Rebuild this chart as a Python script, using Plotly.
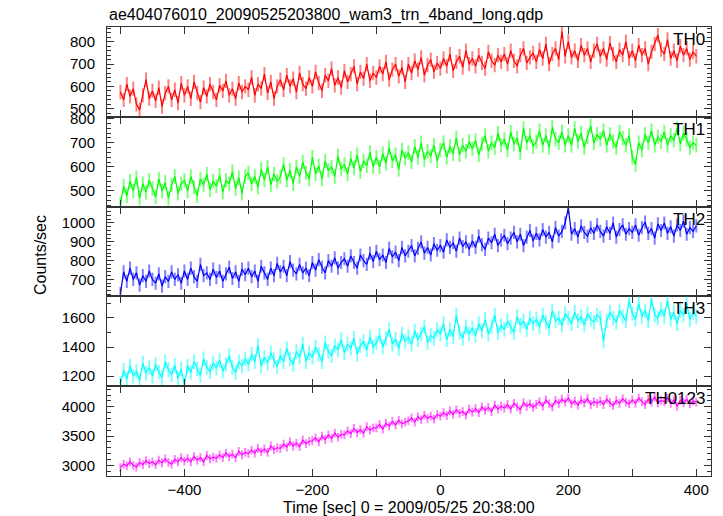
import plotly.graph_objects as go
from plotly.subplots import make_subplots

# time grid (sec), 5 s bins from -500 to 400
time_sec = list(range(-500, 401, 5))

th0 = [
    575, 540, 610, 555, 590, 520, 495, 560, 630, 545,
    580, 535, 595, 510, 570, 600, 540, 585, 525, 615,
    560, 600, 545, 620, 570, 530, 595, 555, 610, 575,
    540, 605, 580, 625, 560, 590, 545, 615, 575, 600,
    585, 640, 560, 610, 590, 655, 570, 620, 545, 600,
    630, 585, 650, 600, 635, 575, 660, 610, 590, 640,
    600, 665, 615, 580, 650, 625, 680, 605, 640, 595,
    670, 620, 655, 690, 610, 665, 635, 700, 625, 660,
    640, 690, 655, 710, 630, 675, 700, 645, 685, 620,
    700, 660, 715, 675, 730, 650, 695, 720, 665, 705,
    680, 725, 690, 745, 670, 710, 735, 685, 760, 700,
    725, 690, 740, 705, 680, 755, 715, 695, 740, 710,
    745, 700, 760, 715, 690, 740, 770, 705, 730, 750,
    710, 765, 725, 790, 700, 745, 770, 720, 845, 735,
    800, 730, 760, 715, 785, 740, 770, 710, 760, 790,
    735, 770, 720, 795, 745, 710, 765, 740, 800, 725,
    760, 715, 785, 740, 770, 700, 755, 790, 830, 765,
    745, 810, 725, 760, 715, 780, 740, 770, 720, 755,
    735,
]

th1 = [
    445, 520, 480, 540, 500, 555, 470, 530, 495, 545,
    510, 475, 550, 500, 535, 470, 525, 560, 490, 530,
    545, 500, 560, 515, 480, 550, 525, 570, 505, 540,
    520, 565, 495, 545, 530, 580, 510, 555, 490, 560,
    575, 530, 560, 515, 590, 545, 600, 525, 570, 540,
    560, 610, 545, 585, 530, 600, 560, 620, 575, 550,
    640, 570, 605, 550, 625, 585, 600, 560, 645, 590,
    610, 570, 635, 595, 650, 580, 625, 605, 660, 600,
    640, 600, 655, 615, 680, 625, 650, 590, 670, 635,
    660, 620, 685, 640, 700, 630, 665, 645, 690, 625,
    670, 700, 640, 685, 655, 720, 650, 690, 665, 705,
    675, 710, 650, 695, 730, 665, 700, 680, 740, 690,
    715, 670, 745, 695, 720, 660, 760, 700, 730, 685,
    705, 750, 690, 730, 680, 765, 715, 700, 745, 690,
    730, 690, 760, 705, 740, 680, 725, 770, 700, 735,
    715, 750, 690, 735, 705, 680, 745, 720, 690, 730,
    640, 610, 700, 670, 735, 700, 750, 690, 725, 705,
    745, 690, 730, 710, 760, 695, 740, 715, 680, 700,
    690,
]

th2 = [
    625, 740, 690, 760, 700, 735, 670, 720, 690, 745,
    700, 680, 730, 665, 715, 690, 740, 700, 725, 680,
    745, 700, 760, 715, 690, 780, 720, 735, 700, 755,
    710, 745, 690, 730, 765, 705, 740, 690, 755, 725,
    760, 715, 745, 690, 770, 735, 700, 760, 720, 785,
    740, 770, 720, 795, 750, 730, 780, 735, 760, 720,
    790, 750, 805, 765, 735, 800, 770, 815, 760, 790,
    810, 770, 825, 790, 760, 830, 800, 780, 840, 795,
    850, 805, 830, 790, 865, 820, 845, 800, 870, 825,
    850, 880, 825, 865, 900, 840, 870, 830, 890, 855,
    880, 845, 910, 870, 895, 850, 920, 875, 900, 860,
    905, 870, 930, 885, 860, 920, 895, 940, 880, 910,
    935, 890, 920, 950, 900, 940, 880, 925, 960, 905,
    945, 910, 965, 925, 950, 900, 975, 930, 955, 1000,
    1080, 940, 970, 925, 985, 950, 930, 975, 945, 990,
    955, 930, 980, 945, 1000, 925, 965, 990, 940, 970,
    950, 990, 935, 975, 1005, 945, 970, 920, 995, 960,
    1000, 945, 980, 930, 990, 960, 1010, 940, 975, 955,
    985,
]

th3 = [
    1150, 1240, 1180, 1270, 1200, 1235, 1170, 1290, 1220, 1260,
    1200, 1280, 1230, 1190, 1300, 1245, 1210, 1275, 1185, 1250,
    1140, 1270, 1225, 1300, 1250, 1205, 1320, 1260, 1230, 1290,
    1255, 1310, 1235, 1280, 1340, 1260, 1225, 1300, 1270, 1320,
    1280, 1350, 1300, 1410, 1270, 1330, 1290, 1360, 1310, 1265,
    1340, 1300, 1390, 1320, 1280, 1370, 1330, 1420, 1300, 1360,
    1330, 1400, 1350, 1300, 1430, 1370, 1340, 1410, 1380, 1450,
    1360, 1420, 1390, 1460, 1350, 1410, 1440, 1380, 1470, 1400,
    1430, 1480, 1400, 1460, 1520, 1420, 1455, 1390, 1490, 1440,
    1470, 1420, 1510, 1450, 1490, 1540, 1430, 1480, 1460, 1520,
    1490, 1560, 1450, 1520, 1470, 1620, 1500, 1460, 1540, 1490,
    1530, 1480, 1560, 1510, 1590, 1490, 1540, 1620, 1500, 1550,
    1520, 1580, 1540, 1500, 1610, 1550, 1580, 1520, 1600, 1560,
    1590, 1540, 1620, 1570, 1530, 1650, 1580, 1600, 1550, 1630,
    1600, 1560, 1640, 1580, 1610, 1550, 1630, 1590, 1570, 1620,
    1600, 1440, 1580, 1640, 1600, 1570, 1650, 1610, 1580, 1720,
    1630, 1590, 1700, 1610, 1650, 1580, 1730, 1620, 1600, 1660,
    1610, 1720, 1590, 1640, 1560, 1650, 1620, 1700, 1590, 1640,
    1610,
]

th0123 = [
    2960, 3020, 2990, 3060, 3000, 2970, 3050, 3010, 3080, 3030,
    3060, 3010, 3090, 3040, 3110, 3050, 3020, 3100, 3060, 3130,
    3070, 3120, 3060, 3150, 3090, 3130, 3060, 3170, 3110, 3140,
    3120, 3180, 3130, 3210, 3150, 3190, 3130, 3240, 3180, 3220,
    3200, 3260, 3210, 3290, 3230, 3280, 3220, 3330, 3270, 3300,
    3290, 3360, 3310, 3400, 3330, 3380, 3320, 3430, 3370, 3410,
    3420, 3470, 3400, 3500, 3440, 3520, 3460, 3550, 3480, 3530,
    3520, 3590, 3540, 3630, 3560, 3610, 3550, 3660, 3600, 3640,
    3640, 3700, 3620, 3720, 3670, 3750, 3690, 3770, 3710, 3740,
    3760, 3810, 3740, 3830, 3780, 3860, 3800, 3840, 3790, 3870,
    3840, 3900, 3850, 3930, 3870, 3950, 3890, 3920, 3860, 3960,
    3910, 3970, 3900, 4000, 3940, 3990, 3920, 4030, 3960, 4010,
    3980, 4040, 3960, 4060, 4000, 3950, 4070, 4010, 4050, 3990,
    4040, 4090, 4010, 4120, 4050, 4000, 4110, 4060, 4130, 4080,
    4150, 4050, 4100, 4030, 4120, 4070, 4140, 4040, 4090, 4060,
    4100, 4040, 4130, 4070, 4020, 4110, 4060, 4140, 4080, 4050,
    4120, 4060, 4150, 4090, 4040, 4130, 4080, 4170, 4070, 4110,
    4090, 4150, 4060, 4120, 4010, 4110, 4070, 4130, 4050, 4100,
    4080,
]

band_names = ["TH0", "TH1", "TH2", "TH3", "TH0123"]
band_values = [th0, th1, th2, th3, th0123]
band_errors = [32, 30, 35, 50, 75]   # typical 1-sigma error bar per band (counts/sec)
band_colors = ["#ff0000", "#00ff00", "#0000ff", "#00ffff", "#ff00ff"]
band_err_colors = ["rgba(255,0,0,0.5)", "rgba(0,255,0,0.5)", "rgba(0,0,255,0.5)",
                   "rgba(0,255,255,0.5)", "rgba(255,0,255,0.5)"]
y_ranges = [[464, 866], [435, 808], [610, 1087], [1131, 1748], [2817, 4353]]
y_dticks = [100, 100, 100, 200, 500]
y_minor = [20, 20, 20, 100, 100]

x_tickvals = [-500, -400, -300, -200, -100, 0, 100, 200, 300, 400]
x_ticktext = ["", "\u2212400", "", "\u2212200", "", "0", "", "200", "", "400"]

title_text = "ae404076010_20090525203800_wam3_trn_4band_long.qdp"
x_title = "Time [sec] 0 = 2009/05/25 20:38:00"
y_title = "Counts/sec"

FONT = "Liberation Sans, Arial, Helvetica, sans-serif"
AXC = "#333333"

fig = make_subplots(rows=5, cols=1, shared_xaxes=True, vertical_spacing=0)

for i, (name, vals, col) in enumerate(zip(band_names, band_values, band_colors)):
    r = i + 1
    fig.add_trace(
        go.Scatter(x=time_sec, y=vals, mode="lines", line=dict(color=col, width=1.2),
                   error_y=dict(type="constant", value=band_errors[i], color=band_err_colors[i],
                                thickness=2, width=0),
                   name=name, showlegend=False, hoverinfo="skip"),
        row=r, col=1,
    )
    fig.update_yaxes(
        range=y_ranges[i], dtick=y_dticks[i], tick0=0,
        ticks="inside", ticklen=7, tickwidth=1, tickcolor=AXC,
        minor=dict(dtick=y_minor[i], ticks="inside", ticklen=4, tickwidth=1, tickcolor=AXC),
        showline=True, linecolor=AXC, linewidth=1, mirror="ticks",
        showgrid=False, zeroline=False, automargin=False,
        tickfont=dict(family=FONT, size=15, color="black"),
        ticklabelstandoff=8,
        row=r, col=1,
    )
    fig.update_xaxes(
        range=[-521, 423], tickvals=x_tickvals, ticktext=x_ticktext,
        ticks="inside", ticklen=7, tickwidth=1, tickcolor=AXC,
        showline=True, linecolor=AXC, linewidth=1, mirror="ticks",
        showgrid=False, zeroline=False, automargin=False,
        showticklabels=(r == 5),
        tickfont=dict(family=FONT, size=15, color="black"),
        ticklabelstandoff=0,
        row=r, col=1,
    )
    dom = fig.layout["yaxis" + ("" if r == 1 else str(r))].domain
    fig.add_annotation(
        text=name, xref="paper", yref="paper", x=0.9935, y=dom[1],
        xanchor="right", yanchor="top", yshift=-1, showarrow=False,
        font=dict(family=FONT, size=17, color="black"),
    )

fig.add_annotation(text=title_text, xref="paper", yref="paper", x=0.0, y=1,
                   xanchor="left", yanchor="bottom", yshift=1, showarrow=False,
                   font=dict(family=FONT, size=16, color="black"))
fig.add_annotation(text=x_title, xref="paper", yref="paper", x=0.5, y=0,
                   xanchor="center", yanchor="top", yshift=-21, showarrow=False,
                   font=dict(family=FONT, size=16, color="black"))
fig.add_annotation(text=y_title, xref="paper", yref="paper", x=-0.111, y=0.492,
                   xanchor="center", yanchor="middle", textangle=-90, showarrow=False,
                   font=dict(family=FONT, size=16, color="black"))

fig.update_layout(
    width=723, height=516,
    margin=dict(l=107, r=12, t=27, b=40, autoexpand=False),
    paper_bgcolor="white", plot_bgcolor="white",
    showlegend=False,
)

fig.write_html("out.html", config={"displayModeBar": False},
               post_script="document.body.style.margin='0';document.body.style.padding='0';")
